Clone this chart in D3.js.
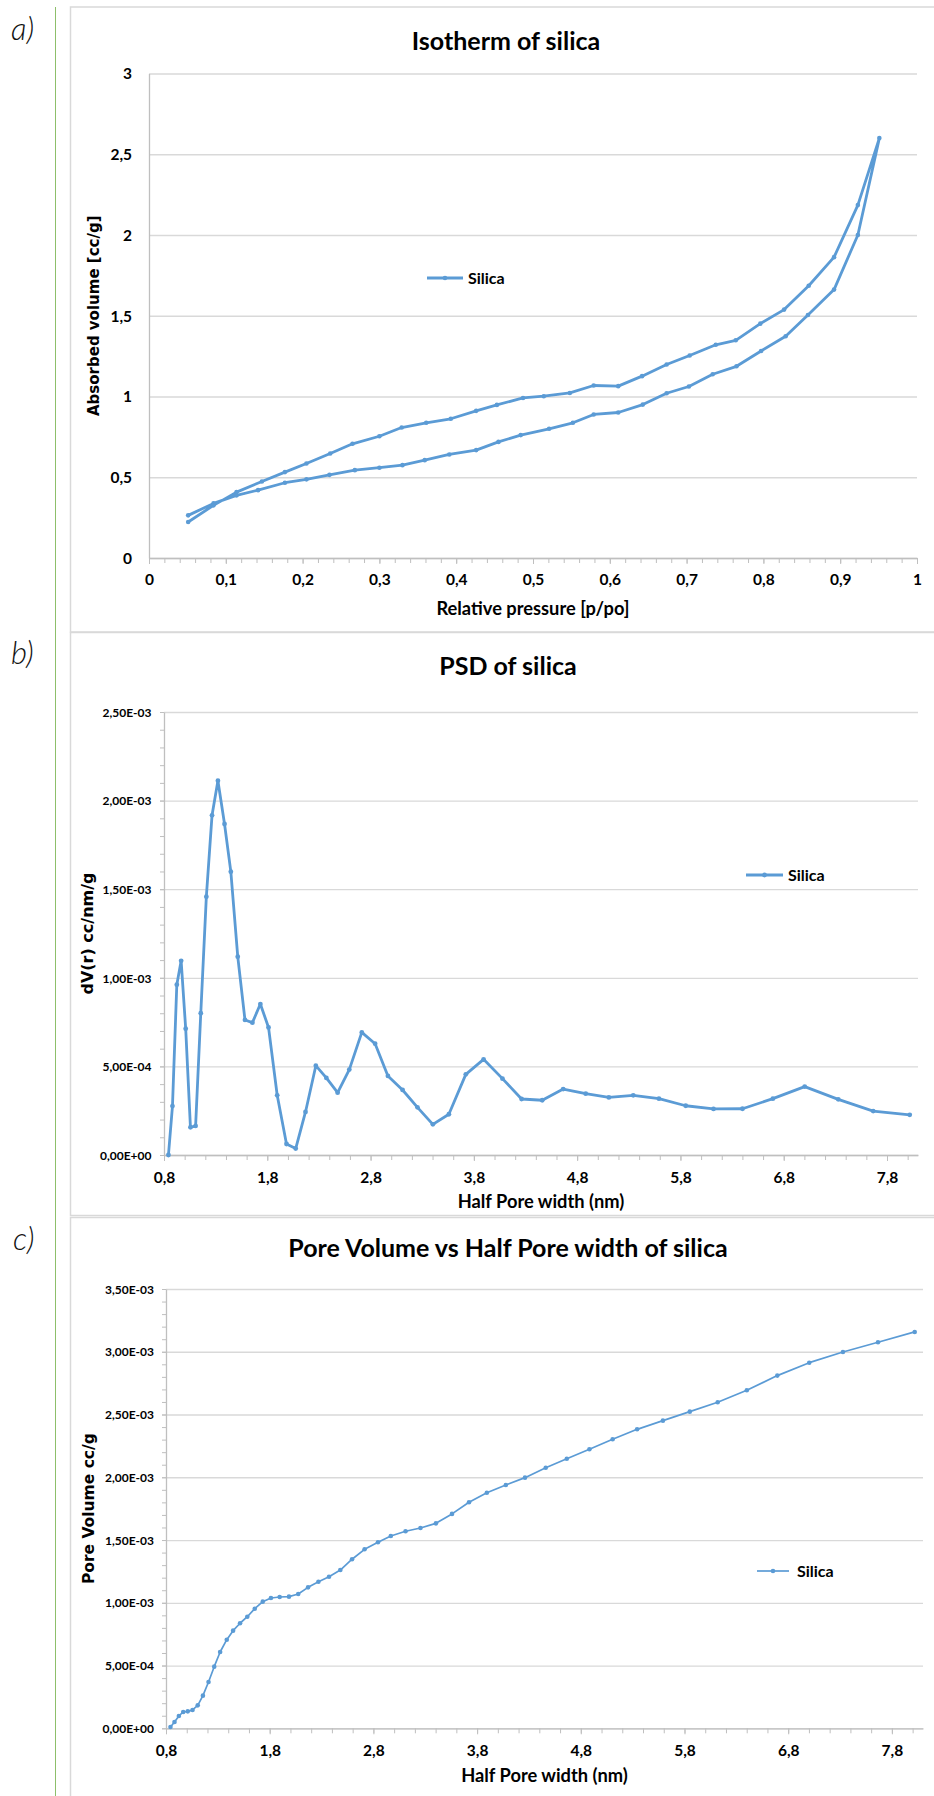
<!DOCTYPE html>
<html><head><meta charset="utf-8">
<script src="https://cdn.jsdelivr.net/npm/d3@7"></script>
<style>
body{margin:0;background:#fff;}
svg{display:block;}
</style></head><body>
<svg id="fig" width="934" height="1796"></svg>
<script>
// ---------- DATA ----------
// a) Isotherm: adsorption branch (low -> high p/po) and desorption branch (high -> low)
const isoAdsPressure = [0.051,0.084,0.114,0.142,0.177,0.205,0.235,0.268,0.300,0.330,0.359,0.391,0.426,0.455,0.484,0.521,0.552,0.579,0.611,0.643,0.674,0.703,0.734,0.765,0.797,0.829,0.858,0.892,0.923,0.951];
const isoAdsVolume   = [0.264,0.338,0.388,0.420,0.466,0.487,0.515,0.544,0.559,0.575,0.606,0.641,0.668,0.719,0.761,0.800,0.837,0.889,0.901,0.950,1.020,1.062,1.138,1.187,1.282,1.373,1.505,1.662,2.000,2.600];
const isoDesPressure = [0.923,0.892,0.859,0.827,0.796,0.764,0.738,0.704,0.674,0.642,0.611,0.579,0.548,0.514,0.487,0.453,0.426,0.393,0.361,0.329,0.300,0.265,0.236,0.205,0.177,0.147,0.114,0.084,0.051];
const isoDesVolume   = [2.185,1.863,1.686,1.538,1.451,1.348,1.320,1.254,1.198,1.126,1.064,1.068,1.022,1.002,0.991,0.948,0.911,0.862,0.837,0.808,0.754,0.707,0.647,0.585,0.532,0.474,0.408,0.326,0.223];

// b) & c) shared half pore widths (nm)
const halfPoreWidth = [0.843,0.882,0.924,0.966,1.010,1.056,1.106,1.156,1.210,1.265,1.322,1.386,1.447,1.514,1.584,1.656,1.733,1.812,1.896,1.986,2.075,2.170,2.270,2.372,2.481,2.594,2.715,2.844,2.968,3.110,3.254,3.403,3.558,3.722,3.894,4.077,4.262,4.462,4.665,4.883,5.107,5.343,5.592,5.851,6.120,6.401,6.695,7.003,7.328,7.666,8.020];
// b) PSD dV(r) cc/nm/g
const psdValues = [0,2.76e-4,9.61e-4,1.096e-3,7.13e-4,1.56e-4,1.64e-4,8.00e-4,1.458e-3,1.917e-3,2.112e-3,1.868e-3,1.599e-3,1.119e-3,7.62e-4,7.47e-4,8.52e-4,7.20e-4,3.37e-4,6.2e-5,3.6e-5,2.43e-4,5.04e-4,4.35e-4,3.52e-4,4.82e-4,6.92e-4,6.28e-4,4.46e-4,3.67e-4,2.69e-4,1.73e-4,2.30e-4,4.55e-4,5.40e-4,4.31e-4,3.16e-4,3.09e-4,3.72e-4,3.46e-4,3.25e-4,3.37e-4,3.18e-4,2.78e-4,2.60e-4,2.61e-4,3.18e-4,3.86e-4,3.14e-4,2.48e-4,2.27e-4];
// c) cumulative pore volume cc/g
const poreVolume = [1.0e-5,5.0e-5,9.8e-5,1.30e-4,1.35e-4,1.46e-4,1.83e-4,2.60e-4,3.69e-4,4.91e-4,6.08e-4,7.06e-4,7.78e-4,8.37e-4,8.89e-4,9.53e-4,1.009e-3,1.038e-3,1.046e-3,1.049e-3,1.070e-3,1.123e-3,1.168e-3,1.208e-3,1.261e-3,1.347e-3,1.426e-3,1.482e-3,1.532e-3,1.570e-3,1.596e-3,1.633e-3,1.708e-3,1.801e-3,1.877e-3,1.939e-3,1.997e-3,2.076e-3,2.148e-3,2.223e-3,2.303e-3,2.382e-3,2.451e-3,2.523e-3,2.598e-3,2.693e-3,2.810e-3,2.913e-3,2.998e-3,3.076e-3,3.158e-3];

// tick values and labels
const isoXTicks = [0,0.1,0.2,0.3,0.4,0.5,0.6,0.7,0.8,0.9,1];
const isoXLabels = ["0","0,1","0,2","0,3","0,4","0,5","0,6","0,7","0,8","0,9","1"];
const isoYTicks = [0,0.5,1,1.5,2,2.5,3];
const isoYLabels = ["0","0,5","1","1,5","2","2,5","3"];
const poreXTicks = [0.8,1.8,2.8,3.8,4.8,5.8,6.8,7.8];
const poreXLabels = ["0,8","1,8","2,8","3,8","4,8","5,8","6,8","7,8"];
const psdYTicks = [0,5e-4,1e-3,1.5e-3,2e-3,2.5e-3];
const psdYLabels = ["0,00E+00","5,00E-04","1,00E-03","1,50E-03","2,00E-03","2,50E-03"];
const volYTicks = [0,5e-4,1e-3,1.5e-3,2e-3,2.5e-3,3e-3,3.5e-3];
const volYLabels = ["0,00E+00","5,00E-04","1,00E-03","1,50E-03","2,00E-03","2,50E-03","3,00E-03","3,50E-03"];
const seriesName = "Silica";

// ---------- DRAW ----------
const BLUE = "#5b9bd5", GRID = "#d9d9d9", AXIS = "#bfbfbf";
const FONT = "Lato, 'Open Sans', sans-serif";
const svg = d3.select("#fig");
svg.append("rect").attr("width",934).attr("height",1796).attr("fill","#fff");

svg.append("line").attr("x1",55.5).attr("x2",55.5).attr("y1",7).attr("y2",1796)
  .attr("stroke","#8dbf6a").attr("stroke-width",1);
[[7,632],[632.5,1215.5],[1217.5,1800]].forEach(([t,b])=>{
  svg.append("rect").attr("x",70.5).attr("y",t).attr("width",900).attr("height",b-t)
    .attr("fill","none").attr("stroke","#d9d9d9").attr("stroke-width",1.5);
});
[["a)",11,40],["b)",11,664],["c)",13,1250]].forEach(([t,x,y])=>{
  svg.append("text").attr("x",x).attr("y",y).text(t)
    .attr("font-family",FONT).attr("font-style","italic").attr("font-weight",300)
    .attr("font-size",31).attr("fill","#111");
});

function chart(o){
  const g = svg.append("g");
  const x = d3.scaleLinear().domain(o.xDomain).range([o.left,o.right]);
  const y = d3.scaleLinear().domain(o.yDomain).range([o.bottom,o.top]);
  // gridlines
  g.append("g").attr("transform",`translate(${o.left},0)`)
    .call(d3.axisLeft(y).tickValues(o.yTicks).tickSize(-(o.right-o.left)).tickSizeOuter(0).tickFormat(""))
    .call(s=>{s.select(".domain").remove(); s.selectAll("line").attr("stroke",GRID).attr("stroke-width",1.3);});
  // y minor ticks
  if(o.yMinor){
    g.append("g").attr("transform",`translate(${o.left},0)`)
      .call(d3.axisLeft(y).tickValues(o.yMinor).tickSize(4).tickSizeOuter(0).tickFormat(""))
      .call(s=>{s.select(".domain").remove(); s.selectAll("line").attr("stroke",AXIS);});
  }
  // y axis
  const ya = g.append("g").attr("transform",`translate(${o.left},0)`)
    .call(d3.axisLeft(y).tickValues(o.yTicks).tickSize(o.yMinor?4:0).tickSizeOuter(0).tickFormat((d,i)=>o.yLabels[i]));
  ya.select(".domain").attr("stroke",AXIS).attr("stroke-width",1.3);
  ya.selectAll(".tick line").attr("stroke",AXIS);
  ya.selectAll("text").attr("x",o.yLabelX-o.left).attr("dy","0.35em")
    .attr("font-family",FONT).attr("font-weight","bold").attr("font-size",o.yTickFont).attr("fill","#000");
  // x minor ticks
  g.append("g").attr("transform",`translate(0,${o.bottom})`)
    .call(d3.axisBottom(x).tickValues(o.xMinor).tickSize(5).tickSizeOuter(0).tickFormat(""))
    .call(s=>{s.select(".domain").remove(); s.selectAll("line").attr("stroke",AXIS);});
  // x axis
  const xa = g.append("g").attr("transform",`translate(0,${o.bottom})`)
    .call(d3.axisBottom(x).tickValues(o.xTicks).tickSize(6).tickSizeOuter(0).tickFormat((d,i)=>o.xLabels[i]));
  xa.select(".domain").attr("stroke",AXIS).attr("stroke-width",1.3);
  xa.selectAll(".tick line").attr("stroke",AXIS);
  xa.selectAll("text").attr("y",o.xLabelDy).attr("dy","0.35em")
    .attr("font-family",FONT).attr("font-weight","bold").attr("font-size",15.5).attr("fill","#000");
  // series
  const line = d3.line().x(d=>x(d[0])).y(d=>y(d[1]));
  g.append("path").datum(o.points).attr("d",line).attr("fill","none")
    .attr("stroke",BLUE).attr("stroke-width",o.lw).attr("stroke-linejoin","round");
  g.append("g").selectAll("circle").data(o.points).join("circle")
    .attr("cx",d=>x(d[0])).attr("cy",d=>y(d[1])).attr("r",o.mr).attr("fill",BLUE);
  // title
  g.append("text").attr("x",o.titleX).attr("y",o.titleY).attr("text-anchor","middle").attr("dy","0.35em")
    .attr("font-family",FONT).attr("font-weight","bold").attr("font-size",25).attr("fill","#000").text(o.title);
  // x title
  g.append("text").attr("x",(o.left+o.right)/2).attr("y",o.xTitleY).attr("text-anchor","middle").attr("dy","0.35em")
    .attr("font-family",FONT).attr("font-weight","bold").attr("font-size",18.3).attr("fill","#000").text(o.xTitle);
  // y title
  g.append("text").attr("transform",`translate(${o.yTitleX},${(o.top+o.bottom)/2}) rotate(-90)`)
    .attr("text-anchor","middle").attr("dy","0.35em")
    .attr("font-family","'DejaVu Sans', Verdana, sans-serif").attr("font-weight","bold").attr("font-size",o.yTitleFont)
    .attr("fill","#000").text(o.yTitle);
  // legend
  const lg = g.append("g");
  lg.append("line").attr("x1",o.legX).attr("x2",o.legX+o.legLen).attr("y1",o.legY).attr("y2",o.legY)
    .attr("stroke",BLUE).attr("stroke-width",o.lw);
  lg.append("circle").attr("cx",o.legX+o.legLen/2).attr("cy",o.legY).attr("r",o.mr).attr("fill",BLUE);
  lg.append("text").attr("x",o.legX+o.legLen+o.legGap).attr("y",o.legY).attr("dy","0.35em")
    .attr("font-family",FONT).attr("font-weight","bold").attr("font-size",16).attr("fill","#000").text(seriesName);
}

const isoPoints = isoAdsPressure.map((p,i)=>[p,isoAdsVolume[i]])
  .concat(isoDesPressure.map((p,i)=>[p,isoDesVolume[i]]));
chart({
  left:149,right:917,top:73.5,bottom:558,
  xDomain:[0,1],yDomain:[0,3],
  xTicks:isoXTicks,xLabels:isoXLabels,xMinor:d3.range(0,51).map(k=>k/50),
  yTicks:isoYTicks,yLabels:isoYLabels,yMinor:null,
  yLabelX:132,yTickFont:15.5,xLabelDy:22,
  points:isoPoints,lw:2.8,mr:2.3,
  title:"Isotherm of silica",titleX:506,titleY:41,
  xTitle:"Relative pressure [p/po]",xTitleY:609,
  yTitle:"Absorbed volume [cc/g]",yTitleX:94,yTitleFont:15,
  legX:427,legY:278,legLen:36,legGap:5
});
chart({
  left:164,right:918,top:712,bottom:1155,
  xDomain:[0.8,8.1],yDomain:[0,2.5e-3],
  xTicks:poreXTicks,xLabels:poreXLabels,xMinor:d3.range(0,37).map(k=>0.8+k*0.2),
  yTicks:psdYTicks,yLabels:psdYLabels,yMinor:d3.range(0,26).map(k=>k*1e-4),
  yLabelX:151.5,yTickFont:12,xLabelDy:23,
  points:halfPoreWidth.map((r,i)=>[r,psdValues[i]]),lw:2.8,mr:2.4,
  title:"PSD of silica",titleX:508,titleY:666,
  xTitle:"Half Pore width (nm)",xTitleY:1202,
  yTitle:"dV(r) cc/nm/g",yTitleX:87.5,yTitleFont:16,
  legX:746,legY:875,legLen:37,legGap:5
});
chart({
  left:166,right:923,top:1289,bottom:1728.3,
  xDomain:[0.8,8.1],yDomain:[0,3.5e-3],
  xTicks:poreXTicks,xLabels:poreXLabels,xMinor:d3.range(0,37).map(k=>0.8+k*0.2),
  yTicks:volYTicks,yLabels:volYLabels,yMinor:d3.range(0,36).map(k=>k*1e-4),
  yLabelX:154,yTickFont:12,xLabelDy:22.4,
  points:halfPoreWidth.map((r,i)=>[r,poreVolume[i]]),lw:1.7,mr:2.3,
  title:"Pore Volume vs Half Pore width of silica",titleX:508,titleY:1248.5,
  xTitle:"Half Pore width (nm)",xTitleY:1775.5,
  yTitle:"Pore Volume cc/g",yTitleX:89,yTitleFont:15.5,
  legX:757,legY:1571,legLen:32,legGap:8
});
</script>
</body></html>
